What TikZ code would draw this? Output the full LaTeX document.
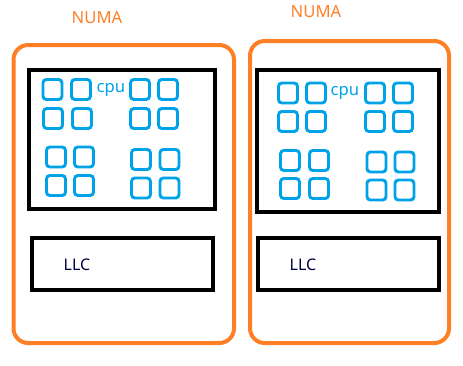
\documentclass[tikz,border=0pt]{standalone}
\usepackage{fontspec}
\setmainfont{Noto Sans}
\definecolor{numaorange}{RGB}{255,127,39}
\definecolor{cpublue}{RGB}{0,162,232}
\definecolor{llcnavy}{RGB}{0,0,64}
\begin{document}
\begin{tikzpicture}[x=0.75pt,y=-0.75pt,
  numabox/.style={draw=numaorange,line width=3pt,rounded corners=11pt},
  chipbox/.style={draw=black,line width=3pt},
  core/.style={draw=cpublue,line width=2.2pt,rounded corners=2.5pt,minimum width=14.25pt,minimum height=15pt,inner sep=0pt},
  numalabel/.style={text=numaorange,font=\fontsize{12.5}{14}\selectfont},
  llclabel/.style={text=llcnavy,font=\fontsize{12}{14}\selectfont},
  cpulabel/.style={text=cpublue,font=\fontsize{12.5}{14}\selectfont}]
\useasboundingbox (0,0) rectangle (463,365);
% left NUMA
\draw[numabox] (13.5,45) rectangle (234,343);
\node[numalabel] (numaL) at (97,18) {NUMA};
\draw[chipbox] (29,70) rectangle (215,209);
\draw[chipbox] (32,238) rectangle (213,290);
\node[llclabel] (llcL) at (77,265) {LLC};
\node[cpulabel] (cpuL) at (111,90) {cpu};
\foreach \x/\y [count=\i] in {52.5/89.5,81/89.5,53/118.5,82/118.5,
  140/89.5,168/89.5,140/118.5,168/118.5,
  56/157,84/157,56/185.5,84/185.5,
  141/159.5,169.5/159.5,141/188,169.5/188}
  \node[core] (cL\i) at (\x,\y) {};
% right NUMA
\draw[numabox] (250,41) rectangle (449,343);
\node[numalabel] (numaR) at (316,12) {NUMA};
\draw[chipbox] (257,70) rectangle (439,212);
\draw[chipbox] (258,238) rectangle (439,290);
\node[llclabel] (llcR) at (303,265) {LLC};
\node[cpulabel] (cpuR) at (345,93) {cpu};
\foreach \x/\y [count=\i] in {288/93,316/93,288/121.5,316/121.5,
  375/93,403/93,375/121.5,403/121.5,
  290/160.5,319/160.5,290/188.5,319/188.5,
  376.5/162,404.5/162,376.5/190,404.5/190}
  \node[core] (cR\i) at (\x,\y) {};
\end{tikzpicture}
\end{document}
